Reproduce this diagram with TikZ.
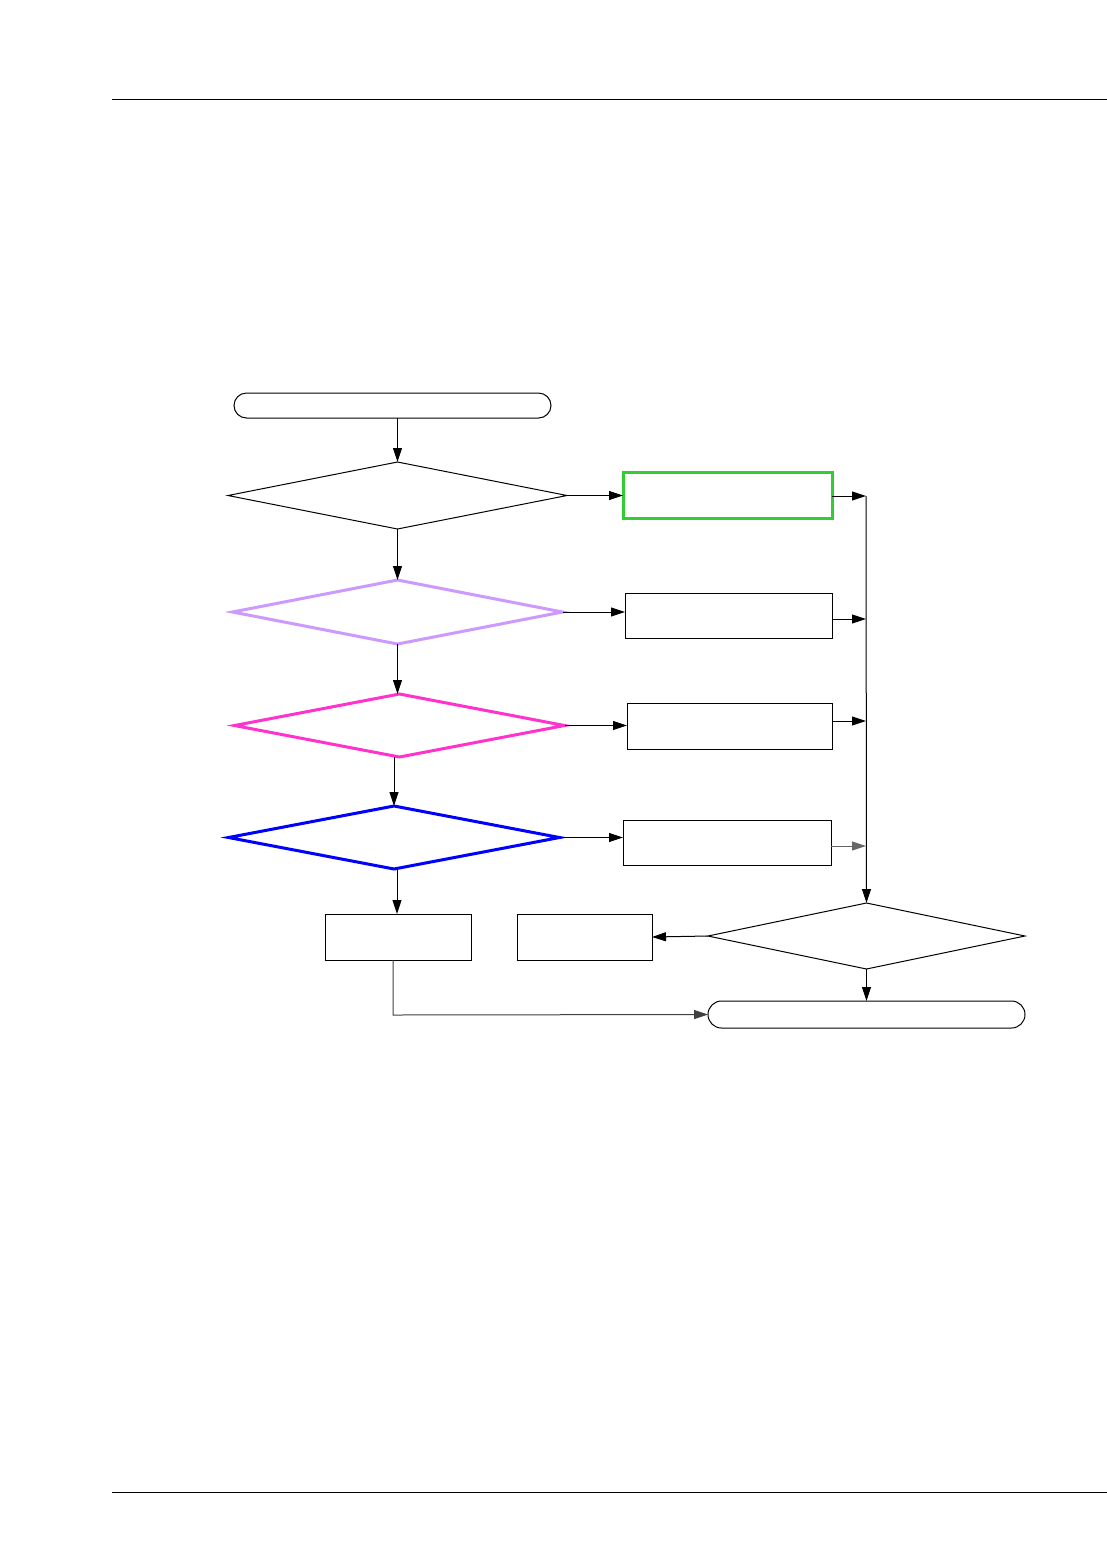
\documentclass[tikz,border=0pt]{standalone}
\usepackage{xcolor}
\usepackage{tikz}
\usetikzlibrary{arrows.meta,shapes.geometric,shapes.misc}
\definecolor{ok}{HTML}{33CC33}
\definecolor{lilac}{HTML}{CC99FF}
\definecolor{pink}{HTML}{FF33CC}
\definecolor{deep}{HTML}{0000FF}

\begin{document}
\begin{tikzpicture}[x=0.5pt, y=-0.5pt, line width=0.5pt, box/.style={draw, rectangle, inner sep=0pt, outer sep=0pt}, dia/.style={draw, diamond, inner sep=0pt, outer sep=0pt}, term/.style={draw, rounded rectangle, inner sep=0pt, outer sep=0pt}, arr/.style={-{Triangle[length=7pt, width=4.5pt]}, draw=black}]
\useasboundingbox (0,0) rectangle (1107,1554);
% page rules
\draw (112,99) -- (1107,99);
\draw (112,1492) -- (1107,1492);
% left column: start and the four checks
\node[term, minimum width=158.5pt, minimum height=12.5pt] (start) at (392.5,405.5) {};
\node[dia, minimum width=169.5pt, minimum height=33.5pt] (chk1) at (397.5,495.5) {};
\node[dia, draw=lilac, line width=1.5pt, minimum width=165pt, minimum height=32pt] (chk2) at (397.5,612) {};
\node[dia, draw=pink, line width=1.5pt, minimum width=165pt, minimum height=31.5pt] (chk3) at (399.5,725.5) {};
\node[dia, draw=deep, line width=1.5pt, minimum width=165.5pt, minimum height=31.5pt] (chk4) at (394,837.5) {};
% right column: actions
\node[box, draw=ok, line width=1.5pt, minimum width=104.5pt, minimum height=23pt] (act1) at (727.5,495) {};
\node[box, minimum width=103.5pt, minimum height=22.5pt] (act2) at (728.5,615.5) {};
\node[box, minimum width=102.5pt, minimum height=23pt] (act3) at (729.5,726) {};
\node[box, minimum width=104pt, minimum height=22.5pt] (act4) at (727,842.5) {};
% bottom row
\node[box, minimum width=73pt, minimum height=23pt] (fail) at (398,937) {};
\node[box, minimum width=67.5pt, minimum height=23pt] (retry) at (584.5,937) {};
\node[dia, minimum width=158.5pt, minimum height=33pt] (done) at (866.5,936) {};
\node[term, minimum width=158.5pt, minimum height=13.5pt] (stop) at (866.5,1014.5) {};
% collecting bus
\coordinate (bus1) at (866,496);
\coordinate (bus2) at (866,619);
\coordinate (bus3) at (866,721);
\coordinate (bus4) at (866,846);
\draw[arr] (start.south -| chk1.north) -- (chk1.north);
\draw[arr] (chk1.south) -- (chk2.north);
\draw[arr] (chk2.south) -- (chk3.north -| chk2.south);
\draw[arr] (chk3.south -| chk4.north) -- (chk4.north);
\draw[arr] (chk4.south -| 397,0) -- (fail.north -| 397,0);
\draw[arr] (chk1.east) -- (act1.west |- chk1.east);
\draw[arr] (chk2.east) -- (act2.west |- chk2.east);
\draw[arr] (chk3.east) -- (act3.west |- chk3.east);
\draw[arr] (chk4.east) -- (act4.west |- chk4.east);
\draw[arr] (act1.east |- bus1) -- (bus1);
\draw[arr] (act2.east |- bus2) -- (bus2);
\draw[arr] (act3.east |- bus3) -- (bus3);
\draw[arr, draw=black!60] (act4.east |- bus4) -- (bus4);
\draw[arr] (bus1) -- (done.north);
\draw[arr] (done.west) -- (retry.east);
\draw[arr] (done.south) -- (stop.north);
\draw[arr, draw=black!75] (fail.south -| 393,0) -- (393,1015) -- (stop.west);
\end{tikzpicture}
\end{document}
